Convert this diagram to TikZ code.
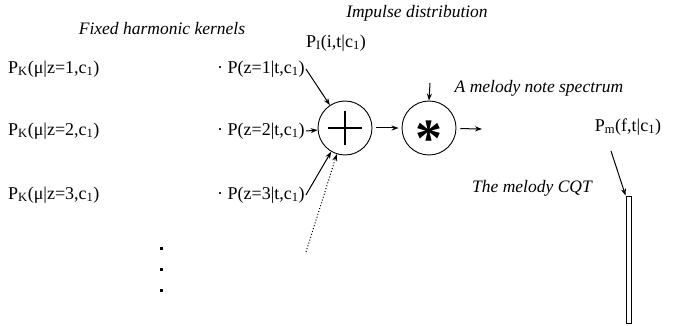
\documentclass[tikz,border=0pt]{standalone}
\usepackage{fontspec}
\setmainfont{Liberation Serif}
\usetikzlibrary{arrows.meta, positioning}
\tikzset{
  caption/.style={font=\fontsize{17.5}{20}\selectfont\itshape, inner sep=1pt},
  term/.style={font=\fontsize{18}{21}\selectfont, inner sep=1pt},
  op/.style={circle, draw, line width=0.9pt, minimum size=54pt, inner sep=0pt},
  arrow/.style={line width=1pt, -{Stealth[length=7pt, width=5pt]}},
  dotarrow/.style={line width=1pt, dotted, -{Stealth[length=7pt, width=5pt]}}
}

\begin{document}
\begin{tikzpicture}[x=1pt, y=-1pt]
    \useasboundingbox (0,0) rectangle (683,326);

    % Titulos
    \node[caption] (kernels) at (162,29) {Fixed harmonic kernels};
    \node[caption] (impulse) at (417,13) {Impulse distribution};
    \node[caption] (spectrum) at (539,88) {A melody note spectrum};
    \node[caption] (cqt) at (532,188) {The melody CQT};

    % Nucleos armonicos
    \foreach \z/\y in {1/69, 2/131, 3/195} {
        \node[term, anchor=west] (k\z) at (7,\y) {P\textsubscript{K}(μ|z=\z,c\textsubscript{1})};
        \node[term, anchor=west] (w\z) at (216,\y) {· P(z=\z|t,c\textsubscript{1})};
    }

    % Puntos suspensivos
    \foreach \i/\y in {1/248, 2/269, 3/290} {
        \node[fill, minimum size=3pt, inner sep=0pt] (dot\i) at (161,\y) {};
    }

    % Operadores
    \node[op] (plus) at (345,128) {};
    \draw[line width=2.2pt] (plus.center) ++(-17,0) -- ++(34,0);
    \draw[line width=2.2pt] (plus.center) ++(0,-17) -- ++(0,34);
    \node[op] (star) at (429,128) {};
    \node[font=\fontsize{54}{54}\selectfont\bfseries, inner sep=0pt, yshift=-11pt] (ast) at (star) {*};

    \node[term] (pimp) at (336,43) {P\textsubscript{I}(i,t|c\textsubscript{1})};
    \node[term] (pmel) at (628,127) {P\textsubscript{m}(f,t|c\textsubscript{1})};

    % Espectro CQT
    \node[draw, line width=0.8pt, minimum width=5pt, minimum height=127pt, inner sep=0pt] (bar) at (628.5,259.5) {};

    % Extremos libres
    \coordinate (more) at (306,252);
    \coordinate (imptop) at (430,83);
    \coordinate (outend) at (482,129);
    \coordinate (pmsrc) at (611,151);

    % Conexiones
    \draw[arrow] (w1.east) -- (plus);
    \draw[arrow] (w2.east) -- (plus);
    \draw[arrow] (w3.east) -- (plus);
    \draw[dotarrow] (more) -- (plus);
    \draw[arrow, shorten <=4pt, shorten >=3pt] (plus) -- (star);
    \draw[arrow] (imptop) -- (star.north);
    \draw[arrow, shorten <=4pt] (star) -- (outend);
    \draw[arrow] (pmsrc) -- (bar.north west);

\end{tikzpicture}
\end{document}
